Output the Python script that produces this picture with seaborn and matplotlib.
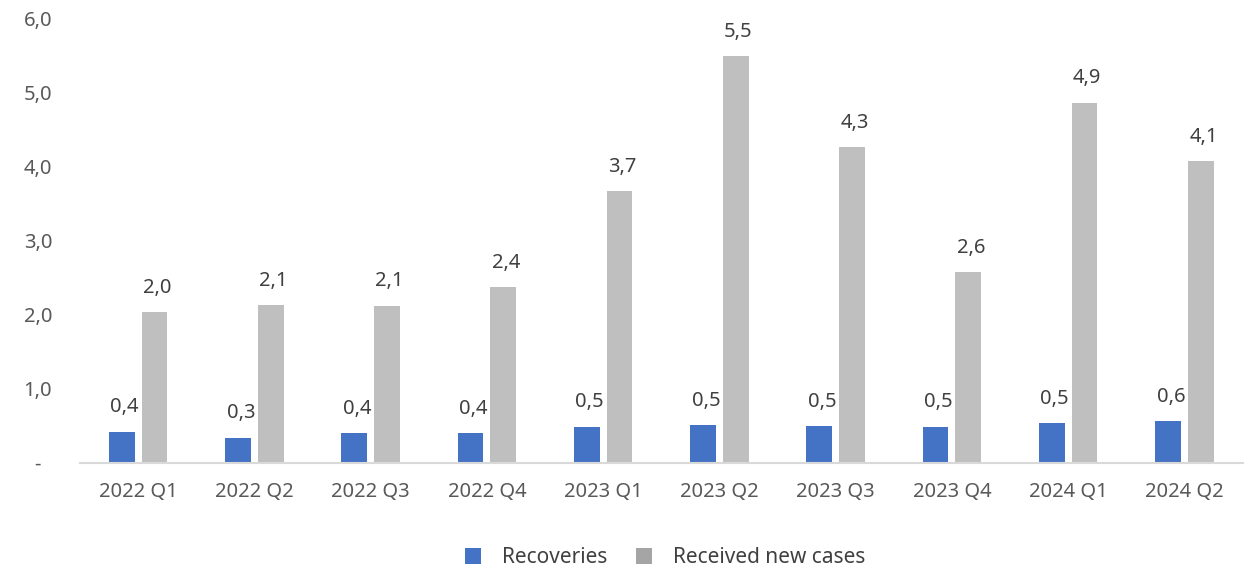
import matplotlib
matplotlib.use("Agg")
import matplotlib.pyplot as plt
import pandas as pd
import seaborn as sns
from matplotlib.ticker import FuncFormatter
from matplotlib.patches import Patch

# data
quarters = ["2022 Q1", "2022 Q2", "2022 Q3", "2022 Q4", "2023 Q1",
            "2023 Q2", "2023 Q3", "2023 Q4", "2024 Q1", "2024 Q2"]
recoveries = [0.42, 0.34, 0.40, 0.40, 0.49, 0.51, 0.50, 0.49, 0.54, 0.56]
new_cases = [2.03, 2.13, 2.12, 2.37, 3.67, 5.49, 4.26, 2.57, 4.86, 4.07]
series = ["Recoveries", "Received new cases"]
colors = ["#4472C4", "#BFBFBF"]
legend_colors = ["#4472C4", "#A5A5A5"]

df = pd.DataFrame({
    "quarter": quarters * 2,
    "value": recoveries + new_cases,
    "series": [series[0]] * len(quarters) + [series[1]] * len(quarters),
})

sns.set_theme(style="white")
plt.rcParams["font.family"] = ["Noto Sans", "DejaVu Sans"]

fig = plt.figure(figsize=(12.5, 5.68), dpi=100)
ax = fig.add_axes([0.064, 0.185, 0.93, 0.783])

sns.barplot(data=df, x="quarter", y="value", hue="series", order=quarters,
            hue_order=series, palette=colors, width=0.56, gap=0.21,
            saturation=1, legend=False, linewidth=0, edgecolor="none", ax=ax)

# value labels
for cont in ax.containers:
    for bar in cont:
        h = bar.get_height()
        ax.annotate(f"{h:.1f}".replace(".", ","),
                    (bar.get_x() + bar.get_width() / 2, h),
                    xytext=(2, 17.5), textcoords="offset points",
                    ha="center", va="center", fontsize=14.5, color="#404040")

ax.set_ylim(0, 6)
ax.set_xlim(-0.5, len(quarters) - 0.5)
ax.set_yticks(range(7))
ax.yaxis.set_major_formatter(FuncFormatter(
    lambda v, p: "-  " if v == 0 else f"{v:.1f}".replace(".", ",")))
ax.tick_params(axis="y", length=0, pad=20, labelsize=14.5, labelcolor="#595959")
ax.tick_params(axis="x", length=0, pad=14, labelsize=14.5, labelcolor="#595959")
ax.set_xlabel("")
ax.set_ylabel("")

sns.despine(ax=ax, left=True)
ax.spines["bottom"].set_color("#D9D9D9")
ax.spines["bottom"].set_linewidth(1.5)

handles = [Patch(facecolor=c, edgecolor="none") for c in legend_colors]
fig.legend(handles, series, loc="center", bbox_to_anchor=(0.532, 0.018),
           ncol=2, frameon=False, fontsize=15, handlelength=0.75,
           handleheight=0.75, handletextpad=1.0, columnspacing=1.4,
           labelcolor="#404040")

fig.savefig("out.png", dpi=100, facecolor="white")
